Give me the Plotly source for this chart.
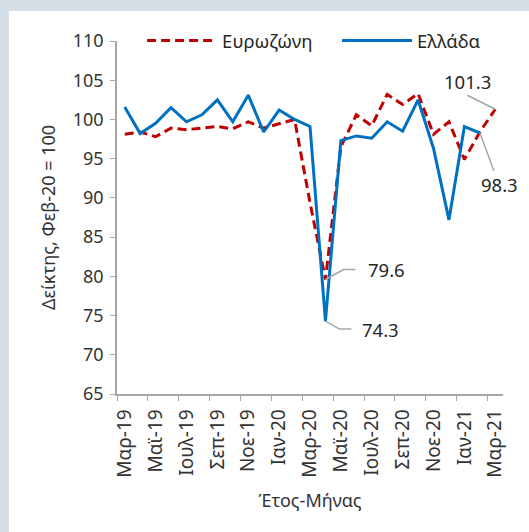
import plotly.graph_objects as go

months = ["Μαρ-19", "Απρ-19", "Μαϊ-19", "Ιουν-19", "Ιουλ-19", "Αυγ-19", "Σεπ-19",
          "Οκτ-19", "Νοε-19", "Δεκ-19", "Ιαν-20", "Φεβ-20", "Μαρ-20", "Απρ-20",
          "Μαϊ-20", "Ιουν-20", "Ιουλ-20", "Αυγ-20", "Σεπ-20", "Οκτ-20", "Νοε-20",
          "Δεκ-20", "Ιαν-21", "Φεβ-21", "Μαρ-21"]

eurozone = [98.1, 98.4, 97.8, 98.9, 98.7, 98.9, 99.1, 98.8, 99.7, 98.9, 99.5, 100.0,
            89.4, 79.6, 96.5, 100.6, 99.2, 103.2, 101.9, 103.3, 98.1, 99.7, 94.9,
            98.4, 101.3]
greece = [101.6, 98.2, 99.5, 101.5, 99.7, 100.6, 102.5, 99.7, 103.1, 98.4, 101.2,
          100.0, 99.1, 74.3, 97.3, 97.9, 97.6, 99.7, 98.5, 102.5, 96.3, 87.2, 99.1,
          98.3]

FONT = "Noto Sans"
TXT = "#333333"
GREY = "#a6a6a6"

fig = go.Figure()
fig.add_trace(go.Scatter(
    x=months, y=eurozone, name="Ευρωζώνη", mode="lines", legend="legend",
    line=dict(color="#c00000", width=3, dash="9px,5px")
))
fig.add_trace(go.Scatter(
    x=months[:len(greece)], y=greece, name="Ελλάδα", mode="lines", legend="legend2",
    line=dict(color="#0070c0", width=3)
))

# value labels with leader lines (offsets in pixels from the data point)
labels = [
    (months[24], eurozone[24], "M0,0 L-28,14", -28, 28),
    (months[23], greece[23], "M0,0 L14,-38", 20, -52),
    (months[13], eurozone[13], "M0,0 L18,10 L30,10", 61, 10),
    (months[13], greece[13], "M0,0 L14,-8 L26,-8", 55, -8),
]
for x, y, path, dx, dy in labels:
    fig.add_shape(type="path", xref="x", yref="y", xsizemode="pixel", ysizemode="pixel",
                  xanchor=x, yanchor=y, path=path, line=dict(color=GREY, width=1.5))
    fig.add_annotation(x=x, y=y, text=f"{y:.1f}", showarrow=False, xshift=dx, yshift=dy,
                       font=dict(family=FONT, size=18.5, color="#262626"))

# white panel on the grey page background
fig.add_shape(type="rect", xref="paper", yref="paper", x0=-0.28, x1=1.2, y0=-0.5, y1=1.085,
              fillcolor="white", line_width=0, layer="below")

leg = dict(orientation="h", y=1.0, xanchor="left", yanchor="middle",
           bgcolor="rgba(0,0,0,0)", itemwidth=70, font=dict(size=18.5, color="#262626"))
fig.update_layout(
    width=529, height=532,
    margin=dict(l=117, r=26, t=41, b=138, autoexpand=False),
    paper_bgcolor="#d5dde5", plot_bgcolor="white",
    font=dict(family=FONT, size=18, color=TXT),
    showlegend=True,
    legend=dict(leg, x=0.065),
    legend2=dict(leg, x=0.57),
)
fig.update_xaxes(
    type="category", range=[-0.5, 24.5], tickmode="linear", tick0=0, dtick=2,
    tickson="boundaries", ticks="outside", ticklen=5, tickcolor=GREY,
    showline=True, linecolor=GREY, linewidth=1.5, showgrid=False, tickangle=-90,
    tickfont=dict(size=19), ticklabelstandoff=6,
    title=dict(text="Έτος-Μήνας", font=dict(size=18, color=TXT), standoff=18),
)
fig.update_yaxes(
    range=[65, 110], dtick=5, ticks="outside", ticklen=5, tickcolor=GREY,
    showline=True, linecolor=GREY, linewidth=1.5, showgrid=False, zeroline=False,
    ticklabelstandoff=3,
    title=dict(text="Δείκτης, Φεβ-20 = 100", font=dict(size=18, color=TXT), standoff=12),
)

fig.write_html("out.html", config={"displayModeBar": False},
               post_script="document.body.style.margin='0';document.body.style.overflow='hidden';")
